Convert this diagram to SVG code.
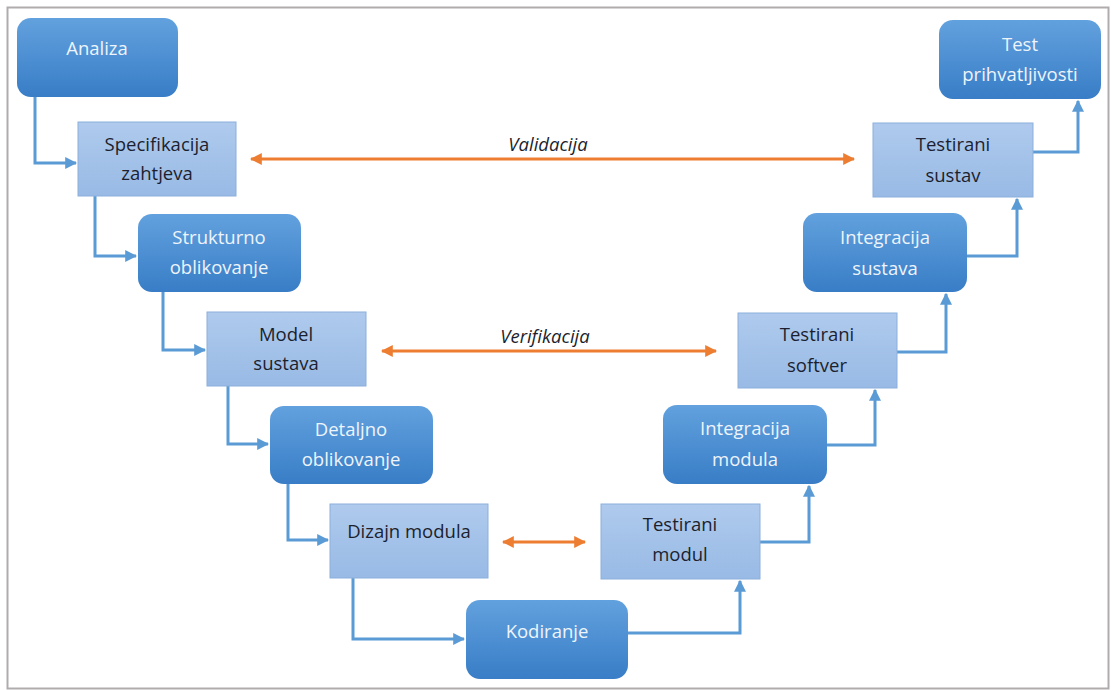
<svg xmlns="http://www.w3.org/2000/svg" width="1111" height="690" viewBox="0 0 1111 690">
<defs>
<linearGradient id="gDark" x1="0" y1="0" x2="0" y2="1">
<stop offset="0" stop-color="#62a1de"/>
<stop offset="1" stop-color="#387dc6"/>
</linearGradient>
<linearGradient id="gLight" x1="0" y1="0" x2="0" y2="1">
<stop offset="0" stop-color="#afcaed"/>
<stop offset="1" stop-color="#98bae5"/>
</linearGradient>
<marker id="ab" viewBox="0 0 10 10" refX="9" refY="5" markerWidth="4" markerHeight="4" orient="auto" markerUnits="strokeWidth">
<path d="M0,0 L10,5 L0,10 z" fill="#5b9bd5"/>
</marker>
<marker id="ao" viewBox="0 0 10 10" refX="9" refY="5" markerWidth="4" markerHeight="4" orient="auto-start-reverse" markerUnits="strokeWidth">
<path d="M0,0 L10,5 L0,10 z" fill="#ed7d31"/>
</marker>
</defs>
<style>
.dark{fill:url(#gDark);}
.light{fill:url(#gLight);stroke:#8cafdc;stroke-width:1;}
.td{font-family:"Open Sans","Liberation Sans",sans-serif;font-size:18.5px;fill:#eef4fb;text-anchor:middle;}
.tl{font-family:"Open Sans","Liberation Sans",sans-serif;font-size:18.5px;fill:#1c1f2e;text-anchor:middle;}
.ti{font-family:"Open Sans","Liberation Sans",sans-serif;font-size:18.5px;font-style:italic;fill:#1c1f2e;text-anchor:middle;}
.cb{fill:none;stroke:#5b9bd5;stroke-width:3;marker-end:url(#ab);}
.co{fill:none;stroke:#ed7d31;stroke-width:3;marker-end:url(#ao);marker-start:url(#ao);}
</style>
<rect x="0" y="0" width="1111" height="690" fill="#ffffff"/>
<rect x="7.5" y="7.5" width="1101" height="681" fill="none" stroke="#b0acac" stroke-width="2"/>

<g id="connectors">
<path class="cb" d="M35,97 V163 H76"/>
<path class="cb" d="M95,195 V256 H136"/>
<path class="cb" d="M163,292 V350 H205"/>
<path class="cb" d="M228,386 V444 H268"/>
<path class="cb" d="M288,484 V540 H328"/>
<path class="cb" d="M353,578 V639 H464"/>
<path class="cb" d="M628,633 H740 V581"/>
<path class="cb" d="M760,542 H809 V486"/>
<path class="cb" d="M827,445 H875 V390"/>
<path class="cb" d="M897,352 H946 V294"/>
<path class="cb" d="M967,256 H1017 V199"/>
<path class="cb" d="M1033,152 H1078 V101"/>
<path class="co" d="M251,159 H854"/>
<path class="co" d="M382,351 H716"/>
<path class="co" d="M503,542 H585"/>
</g>
<text class="ti" x="548" y="151">Validacija</text>
<text class="ti" x="545" y="343">Verifikacija</text>

<g id="analiza"><rect class="dark" x="17" y="18" width="161" height="79" rx="14"/><text class="td" x="97" y="55">Analiza</text></g>
<g id="specifikacija"><rect class="light" x="78" y="122" width="158" height="74"/><text class="tl" x="157" y="151">Specifikacija</text><text class="tl" x="157" y="180">zahtjeva</text></g>
<g id="strukturno"><rect class="dark" x="138" y="214" width="163" height="78" rx="14"/><text class="td" x="219" y="244">Strukturno</text><text class="td" x="219" y="274">oblikovanje</text></g>
<g id="model"><rect class="light" x="207" y="312" width="159" height="74"/><text class="tl" x="286" y="341">Model</text><text class="tl" x="286" y="370">sustava</text></g>
<g id="detaljno"><rect class="dark" x="270" y="406" width="163" height="78" rx="14"/><text class="td" x="351" y="436">Detaljno</text><text class="td" x="351" y="466">oblikovanje</text></g>
<g id="dizajn"><rect class="light" x="330" y="504" width="158" height="74"/><text class="tl" x="409" y="538">Dizajn modula</text></g>
<g id="kodiranje"><rect class="dark" x="466" y="600" width="162" height="79" rx="14"/><text class="td" x="547" y="638">Kodiranje</text></g>
<g id="testirani-modul"><rect class="light" x="601" y="504" width="159" height="75"/><text class="tl" x="680" y="531">Testirani</text><text class="tl" x="680" y="561">modul</text></g>
<g id="integracija-modula"><rect class="dark" x="663" y="405" width="164" height="79" rx="14"/><text class="td" x="745" y="435">Integracija</text><text class="td" x="745" y="466">modula</text></g>
<g id="testirani-softver"><rect class="light" x="738" y="313" width="159" height="75"/><text class="tl" x="817" y="341">Testirani</text><text class="tl" x="817" y="372">softver</text></g>
<g id="integracija-sustava"><rect class="dark" x="803" y="213" width="164" height="79" rx="14"/><text class="td" x="885" y="244">Integracija</text><text class="td" x="885" y="275">sustava</text></g>
<g id="testirani-sustav"><rect class="light" x="873" y="123" width="160" height="74"/><text class="tl" x="953" y="151">Testirani</text><text class="tl" x="953" y="182">sustav</text></g>
<g id="test-prihvatljivosti"><rect class="dark" x="939" y="20" width="162" height="79" rx="14"/><text class="td" x="1020" y="51">Test</text><text class="td" x="1020" y="81">prihvatljivosti</text></g>
</svg>
